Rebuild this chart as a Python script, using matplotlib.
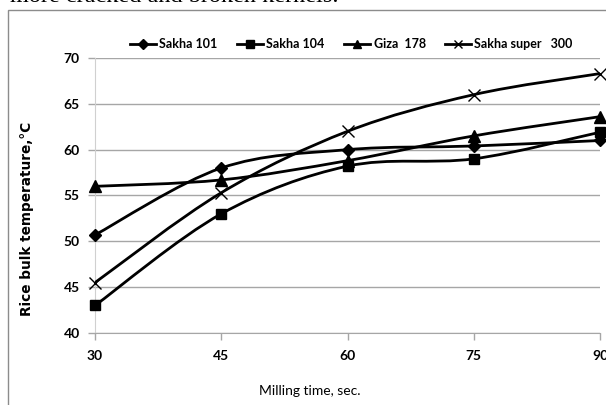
import numpy as np
import matplotlib
matplotlib.use("Agg")
import matplotlib.pyplot as plt
from matplotlib.path import Path
from matplotlib.patches import PathPatch, Rectangle
from matplotlib.lines import Line2D

# Milling time (sec.) and bulk temperature (deg C) per variety
milling_time = [30, 45, 60, 75, 90]
sakha_101 = [50.7, 58.0, 60.0, 60.4, 61.0]
sakha_104 = [43.0, 53.0, 58.2, 59.0, 61.9]
giza_178 = [56.0, 56.7, 58.8, 61.5, 63.6]
sakha_super_300 = [45.5, 55.3, 62.0, 66.0, 68.3]

series_names = ["Sakha 101", "Sakha 104", "Giza  178", "Sakha super   300"]
x_ticks = [30, 45, 60, 75, 90]
y_ticks = [40, 45, 50, 55, 60, 65, 70]

# Lato is the base of Carlito (calibri look-alike)
label_font = ["Lato", "DejaVu Sans"]


def smooth_path(xs, ys):
    # bezier through the points, like the excel "smoothed line"
    pts = np.column_stack([xs, ys]).astype(float)
    verts = [pts[0]]
    codes = [Path.MOVETO]
    n = len(pts)
    for i in range(n - 1):
        p0 = pts[i - 1] if i > 0 else pts[i]
        p1 = pts[i]
        p2 = pts[i + 1]
        p3 = pts[i + 2] if i + 2 < n else pts[i + 1]
        c1 = p1 + (p2 - p0) / 6.0
        c2 = p2 - (p3 - p1) / 6.0
        verts += [c1, c2, p2]
        codes += [Path.CURVE4] * 3
    return Path(verts, codes)


fig = plt.figure(figsize=(6.06, 4.05), dpi=100)
ax = fig.add_axes([0.1568, 0.1778, 0.8333, 0.679])

# cut-off line of text from the page above the chart
fig.text(10 / 606, 1 - 2.5 / 405, "more cracked and broken kernels.", family=["Liberation Serif", "DejaVu Serif"],
         fontsize=17.5, va="baseline", ha="left")

# outer chart frame
fig.patches.append(Rectangle((8 / 606, -0.1), 1.2, 1.1 - 10 / 405, transform=fig.transFigure,
                             fill=False, edgecolor="#8c8c8c", linewidth=1.0))

series = [sakha_101, sakha_104, giza_178, sakha_super_300]
markers = [dict(marker="D", ms=6.5, mew=1),
           dict(marker="s", ms=7, mew=1),
           dict(marker="^", ms=8, mew=1),
           dict(marker="x", ms=8, mew=1.0)]

handles = []
for name, vals, mk in zip(series_names, series, markers):
    ax.add_patch(PathPatch(smooth_path(milling_time, vals), fill=False, edgecolor="black",
                           linewidth=2.0, zorder=3))
    ax.plot(milling_time, vals, linestyle="none", color="black", zorder=4, clip_on=False, **mk)
    leg_mk = dict(mk)
    leg_mk["ms"] = mk["ms"] * 0.8
    handles.append(Line2D([], [], color="black", linewidth=2.0, label=name, **leg_mk))

ax.set_xlim(30, 90)
ax.set_ylim(40, 70)
ax.set_xticks(x_ticks)
ax.set_yticks(y_ticks)
ax.grid(axis="y", color="#a6a6a6", linewidth=1.0)
ax.set_axisbelow(True)

for side in ["top", "right"]:
    ax.spines[side].set_visible(False)
ax.spines["left"].set_color("#d0d0d0")
ax.spines["bottom"].set_color("#a6a6a6")
ax.tick_params(axis="both", length=5, color="#a6a6a6", width=1.0, pad=6)
ax.tick_params(axis="x", direction="out", pad=7)

for lab in ax.get_xticklabels() + ax.get_yticklabels():
    lab.set_family(label_font)
    lab.set_fontsize(10)
    lab.set_fontweight("bold")

ax.set_xlabel("Milling time, sec.", family=label_font, fontsize=10)
ax.xaxis.set_label_coords(0.426, -0.189)
ax.set_ylabel("Rice bulk temperature,\u00b0C", family="DejaVu Sans", fontsize=9.8,
              fontweight="bold")
ax.yaxis.set_label_coords(-0.121, 0.415)

leg = fig.legend(handles=handles, loc="center", bbox_to_anchor=(0.58, 0.891), ncol=4,
                 frameon=False, handlelength=2.1, handletextpad=0.25, columnspacing=1.55,
                 prop=dict(family=label_font, size=9, weight="bold"))

fig.savefig("out.png", dpi=100)
